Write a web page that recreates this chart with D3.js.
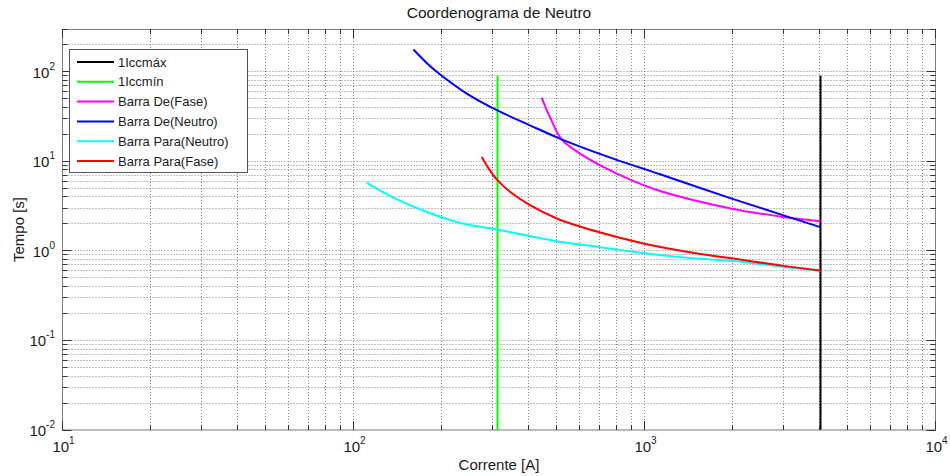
<!DOCTYPE html>
<html>
<head>
<meta charset="utf-8">
<script src="https://cdn.jsdelivr.net/npm/d3@7"></script>
<style>
  body { margin: 0; background: #fff; }
  text { font-family: "Liberation Sans", Arial, sans-serif; fill: #1a1a1a; }
</style>
</head>
<body>
<div id="chart"></div>
<script>
// DATA (current in A, time in s)

const seriesNames = ["1Iccmáx", "1Iccmín", "Barra De(Fase)", "Barra De(Neutro)", "Barra Para(Neutro)", "Barra Para(Fase)"];
const seriesColors = ["#000000", "#00ff00", "#ff00ff", "#0000ff", "#00ffff", "#ff0000"];

// vertical short-circuit markers
const iccMax = [[4020, 0.01], [4020, 90]];
const iccMin = [[313, 0.01], [313, 90]];

const deFase = [[443, 51.5], [473, 31.3], [519, 17.6], [601, 12.2], [705, 9.02], [893, 6.25],
  [1132, 4.66], [1995, 2.96], [3006, 2.39], [4020, 2.14]];

const deNeutro = [[160.7, 177], [180, 122], [198.6, 93], [245, 57], [311, 37.2], [404, 25.2],
  [519, 17.6], [781, 10.7], [1131, 7.16], [1995, 3.83], [3006, 2.49], [4020, 1.84]];

const paraNeutro = [[111, 5.78], [137, 3.93], [179, 2.72], [233, 2.05], [311, 1.73], [500, 1.28],
  [705, 1.10], [1000, 0.94], [1500, 0.82], [2022, 0.77], [3428, 0.632], [4020, 0.60]];

const paraFase = [[276, 11.2], [290, 8.5], [311, 6.25], [346, 4.54], [400, 3.3], [500, 2.3],
  [705, 1.60], [1000, 1.2], [1500, 0.94], [2022, 0.82], [3006, 0.68], [4020, 0.605]];

const allSeries = [iccMax, iccMin, deFase, deNeutro, paraNeutro, paraFase];

const xDomain = [10, 10000];
const yDomain = [0.01, 300];

// LAYOUT

const w = 950, h = 476;
const plotLeft = 62.5, plotRight = 935.5, plotTop = 29, plotBottom = 430;

const svg = d3.select("#chart")
  .append("svg")
  .attr("width", w)
  .attr("height", h);

const x = d3.scaleLog().domain(xDomain).range([plotLeft, plotRight]);
const y = d3.scaleLog().domain(yDomain).range([plotBottom, plotTop]);

const snap = (v) => Math.round(v - 0.5) + 0.5;
const isMajor = (v) => Math.abs(Math.log10(v) - Math.round(Math.log10(v))) < 1e-9;

// GRID (dotted, major and minor)

const xTicks = x.ticks();
const yTicks = y.ticks().filter((d) => d <= yDomain[1] + 1e-9);

const grid = svg.append("g")
  .attr("stroke", "#808080")
  .attr("stroke-width", 1)
  .attr("stroke-dasharray", "1,2");

grid.selectAll("line.gx")
  .data(xTicks.filter((d) => d > xDomain[0] && d < xDomain[1]))
  .enter()
  .append("line")
  .attr("x1", (d) => snap(x(d)))
  .attr("x2", (d) => snap(x(d)))
  .attr("y1", plotTop)
  .attr("y2", plotBottom);

grid.selectAll("line.gy")
  .data(yTicks.filter((d) => d > yDomain[0] && d < yDomain[1]))
  .enter()
  .append("line")
  .attr("y1", (d) => snap(y(d)))
  .attr("y2", (d) => snap(y(d)))
  .attr("x1", plotLeft)
  .attr("x2", plotRight);

// CURVES

svg.append("clipPath")
  .attr("id", "plotClip")
  .append("rect")
  .attr("x", plotLeft)
  .attr("y", plotTop)
  .attr("width", plotRight - plotLeft)
  .attr("height", plotBottom - plotTop);

const line = d3.line()
  .x((d) => x(d[0]))
  .y((d) => y(d[1]))
  .curve(d3.curveCatmullRom.alpha(0.5));

const straight = d3.line()
  .x((d) => snap(x(d[0])))
  .y((d) => y(d[1]));

svg.append("g")
  .attr("clip-path", "url(#plotClip)")
  .selectAll("path")
  .data(allSeries)
  .enter()
  .append("path")
  .attr("fill", "none")
  .attr("stroke", (d, i) => seriesColors[i])
  .attr("stroke-width", 2)
  .attr("d", (d, i) => i < 2 ? straight(d) : line(d));

// AXES BOX AND TICKS

svg.append("rect")
  .attr("x", plotLeft)
  .attr("y", plotTop + 0.5)
  .attr("width", plotRight - plotLeft)
  .attr("height", plotBottom - plotTop - 0.5)
  .attr("fill", "none")
  .attr("stroke", "#7f7f7f")
  .attr("stroke-width", 1);

const ticks = svg.append("g")
  .attr("stroke", "#333")
  .attr("stroke-width", 1);

const tickLen = (d) => isMajor(d) ? 9 : 5;

xTicks.forEach((d) => {
  const px = snap(x(d));
  ticks.append("line").attr("x1", px).attr("x2", px).attr("y1", plotBottom).attr("y2", plotBottom - tickLen(d));
  ticks.append("line").attr("x1", px).attr("x2", px).attr("y1", plotTop).attr("y2", plotTop + tickLen(d));
});

yTicks.forEach((d) => {
  const py = snap(y(d));
  ticks.append("line").attr("y1", py).attr("y2", py).attr("x1", plotLeft).attr("x2", plotLeft + tickLen(d));
  ticks.append("line").attr("y1", py).attr("y2", py).attr("x1", plotRight).attr("x2", plotRight - tickLen(d));
});

// TICK LABELS (10 with superscript exponent)

const xMajor = xTicks.filter(isMajor);
const yMajor = yTicks.filter(isMajor);

const xLabels = svg.selectAll("text.xl")
  .data(xMajor)
  .enter()
  .append("text")
  .attr("x", (d) => x(d) + 1)
  .attr("y", 452)
  .attr("text-anchor", "middle")
  .attr("font-size", 15);
xLabels.append("tspan").text("10");
xLabels.append("tspan")
  .attr("font-size", 10)
  .attr("dy", -8)
  .text((d) => Math.round(Math.log10(d)));

const yLabels = svg.selectAll("text.yl")
  .data(yMajor)
  .enter()
  .append("text")
  .attr("x", 55)
  .attr("y", (d) => y(d) + 6)
  .attr("text-anchor", "end")
  .attr("font-size", 15);
yLabels.append("tspan").text("10");
yLabels.append("tspan")
  .attr("font-size", 10)
  .attr("dy", -8)
  .text((d) => Math.round(Math.log10(d)));

// TITLES

svg.append("text")
  .attr("x", (plotLeft + plotRight) / 2)
  .attr("y", 18)
  .attr("text-anchor", "middle")
  .attr("font-size", 15.5)
  .text("Coordenograma de Neutro");

svg.append("text")
  .attr("x", (plotLeft + plotRight) / 2)
  .attr("y", 470)
  .attr("text-anchor", "middle")
  .attr("font-size", 15)
  .text("Corrente [A]");

svg.append("text")
  .attr("transform", `translate(24, ${(plotTop + plotBottom) / 2}) rotate(-90)`)
  .attr("text-anchor", "middle")
  .attr("font-size", 15)
  .text("Tempo [s]");

// LEGEND

const legend = svg.append("g");

legend.append("rect")
  .attr("x", 69.5)
  .attr("y", 49.5)
  .attr("width", 178)
  .attr("height", 123)
  .attr("fill", "#fff")
  .attr("stroke", "#555")
  .attr("stroke-width", 1);

const rows = legend.selectAll("g.row")
  .data(seriesNames)
  .enter()
  .append("g")
  .attr("transform", (d, i) => `translate(0, ${62 + i * 19.8})`);

rows.append("line")
  .attr("x1", 77)
  .attr("x2", 114)
  .attr("y1", 0)
  .attr("y2", 0)
  .attr("stroke", (d, i) => seriesColors[i])
  .attr("stroke-width", 2);

rows.append("text")
  .attr("x", 118)
  .attr("y", 4.5)
  .attr("font-size", 13)
  .text((d) => d);
</script>
</body>
</html>
